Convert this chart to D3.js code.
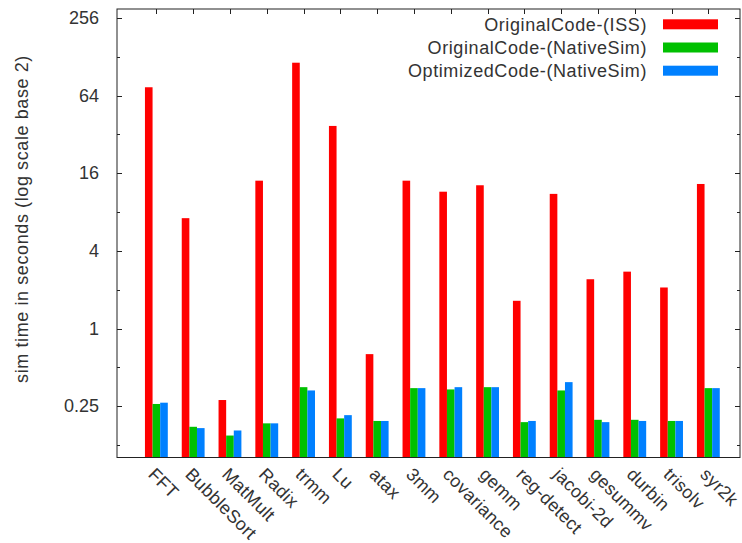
<!DOCTYPE html>
<html>
<head>
<meta charset="utf-8">
<script src="https://cdn.jsdelivr.net/npm/d3@7"></script>
<style>
  body { margin: 0; background: #fff; }
  text { font-family: "Liberation Sans", Arial, sans-serif; fill: #333; }
</style>
</head>
<body>
<div id="chart"></div>
<script>
// benchmark names
const categories = ["FFT", "BubbleSort", "MatMult", "Radix", "trmm", "Lu", "atax", "3mm",
  "covariance", "gemm", "reg-detect", "jacobi-2d", "gesummv", "durbin", "trisolv", "syr2k"];

// sim time in seconds
const issOriginal = [74.2, 7.17, 0.279, 14.0, 115, 37.2, 0.633, 14.0,
  11.5, 12.9, 1.64, 11.06, 2.41, 2.76, 2.08, 13.2];
const nativeOriginal = [0.260, 0.173, 0.148, 0.184, 0.351, 0.201, 0.192, 0.345,
  0.337, 0.351, 0.188, 0.331, 0.196, 0.196, 0.192, 0.345];
const nativeOptimized = [0.266, 0.169, 0.162, 0.184, 0.331, 0.213, 0.192, 0.345,
  0.351, 0.351, 0.192, 0.384, 0.188, 0.192, 0.192, 0.345];

const seriesNames = ["OriginalCode-(ISS)", "OriginalCode-(NativeSim)", "OptimizedCode-(NativeSim)"];
const seriesColors = ["#ff0000", "#00c000", "#0080ff"];
const series = [issOriginal, nativeOriginal, nativeOptimized];

const yTicks = [0.125, 0.25, 0.5, 1, 2, 4, 8, 16, 32, 64, 128, 256];
const yLabelled = [0.25, 1, 4, 16, 64, 256];

const width = 742, height = 543;
const margin = { top: 9, right: 2, bottom: 85.5, left: 117 };
const plotW = width - margin.left - margin.right;
const plotH = height - margin.top - margin.bottom;

const svg = d3.select("#chart").append("svg")
  .attr("width", width)
  .attr("height", height);

const x = d3.scaleLinear().domain([-1.07, 15.86]).range([margin.left, margin.left + plotW]);
const y = d3.scaleLog().base(2).domain([0.1, 300]).range([margin.top + plotH, margin.top]);
const barW = 0.207;

// bars
series.forEach((vals, s) => {
  svg.append("g").selectAll("rect")
    .data(vals)
    .enter()
    .append("rect")
    .attr("x", (d, i) => x(i + (s - 1.5) * barW))
    .attr("y", d => y(d))
    .attr("width", x(barW) - x(0))
    .attr("height", d => y(0.1) - y(d))
    .attr("fill", seriesColors[s]);
});

// frame
svg.append("rect")
  .attr("x", margin.left)
  .attr("y", margin.top)
  .attr("width", plotW)
  .attr("height", plotH)
  .attr("fill", "none")
  .attr("stroke", "#222")
  .attr("stroke-width", 1);

// left axis
let yAxis = d3.axisLeft(y)
  .tickValues(yTicks)
  .tickSize(0)
  .tickPadding(18)
  .tickFormat(d => yLabelled.includes(d) ? d3.format("")(d) : "");
svg.append("g")
  .attr("class", "axis")
  .attr("transform", "translate(" + margin.left + ",0)")
  .call(yAxis)
  .call(g => g.select(".domain").remove())
  .selectAll("text")
  .attr("font-size", "18px")
  .attr("font-family", "Liberation Sans, Arial, sans-serif")
  .attr("fill", "#333");

// tick marks on both sides
const tickG = svg.append("g").attr("stroke", "#222").attr("stroke-width", 1);
yTicks.forEach(t => {
  const len = yLabelled.includes(t) ? 5 : 3;
  const yy = Math.round(y(t)) + 0.5;
  tickG.append("line").attr("x1", margin.left).attr("x2", margin.left + len).attr("y1", yy).attr("y2", yy);
  tickG.append("line").attr("x1", margin.left + plotW).attr("x2", margin.left + plotW - len).attr("y1", yy).attr("y2", yy);
});
categories.forEach((c, i) => {
  const xx = Math.round(x(i)) + 0.5;
  tickG.append("line").attr("x1", xx).attr("x2", xx).attr("y1", margin.top).attr("y2", margin.top + 5);
});

// category labels
svg.append("g").selectAll("text")
  .data(categories)
  .enter()
  .append("text")
  .attr("transform", (d, i) => "translate(" + (x(i) - 9) + "," + (margin.top + plotH + 18) + ") rotate(45)")
  .attr("font-size", "18px")
  .attr("letter-spacing", "0.3px")
  .attr("text-anchor", "start")
  .text(d => d);

// y title
svg.append("text")
  .attr("transform", "translate(28,219) rotate(-90)")
  .attr("text-anchor", "middle")
  .attr("font-size", "18px")
  .attr("letter-spacing", "0.6px")
  .text("sim time in seconds (log scale base 2)");

// legend
const legend = svg.append("g");
seriesNames.forEach((name, s) => {
  const ly = 24.3 + s * 23.2;
  legend.append("text")
    .attr("x", 647)
    .attr("y", ly + 6.5)
    .attr("text-anchor", "end")
    .attr("font-size", "18px")
    .attr("letter-spacing", "0.6px")
    .text(name);
  legend.append("rect")
    .attr("x", 663)
    .attr("y", ly - 5)
    .attr("width", 55)
    .attr("height", 10)
    .attr("fill", seriesColors[s]);
});
</script>
</body>
</html>
